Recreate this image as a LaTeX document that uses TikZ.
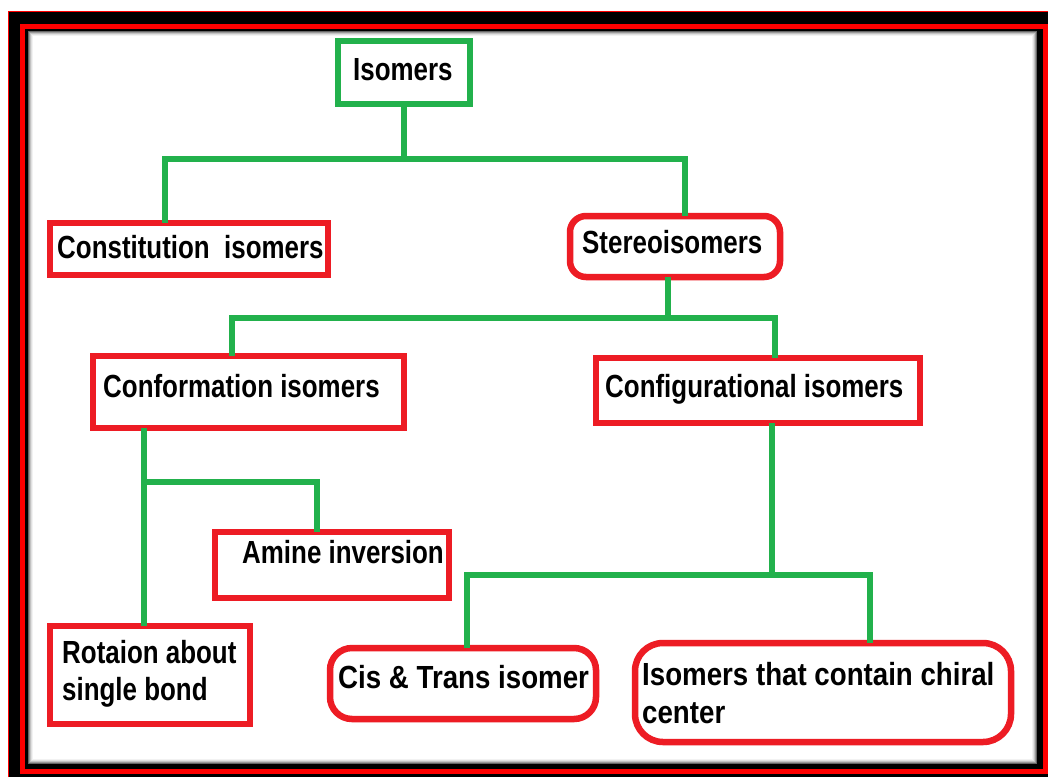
\documentclass[tikz,border=0pt]{standalone}
\usepackage{fontspec}
\setmainfont{Liberation Sans}[FakeStretch=0.81]
\newfontfamily\wfont{Liberation Sans}[FakeStretch=0.865]
\definecolor{pgreen}{RGB}{34,177,76}
\definecolor{pred}{RGB}{237,28,36}
\definecolor{fred}{RGB}{255,0,0}
\tikzset{
  conn/.style={draw=pgreen, line width=6pt, line cap=butt, line join=miter},
  sqbox/.style={draw=pred, line width=6.5pt, fill=white, inner sep=0pt, outer sep=0pt},
  rbox/.style={sqbox, rounded corners=#1},
  gbox/.style={draw=pgreen, line width=6.5pt, fill=white, inner sep=0pt, outer sep=0pt},
  txt/.style={font=\fontsize{32}{37}\selectfont\bfseries, inner sep=0pt, anchor=base west, text=black},
  wtxt/.style={font=\wfont\fontsize{32}{37}\selectfont\bfseries, inner sep=0pt, anchor=base west, text=black}
}
\begin{document}
\begin{tikzpicture}[x=1pt,y=-1pt]
\useasboundingbox (0,0) rectangle (1048,777);
\fill[white] (0,0) rectangle (1048,777);
% frame
\fill[black] (8,11) rectangle (1048,777);
\draw[fred, line width=1.2pt] (8.6,777) -- (8.6,11.6) -- (1048,11.6);
\draw[fred, line width=5pt] (22.5,26.5) rectangle (1045,771.5);
\fill[white] (28,31) rectangle (1037,764);
\foreach \i/\c in {0.5/60,1.5/40,2.5/24,3.5/12,4.5/5}
  \draw[black!\c, line width=1pt] (28+\i,31+\i) rectangle (1037-\i,764-\i);

% boxes
\node[gbox, minimum width=132pt, minimum height=63pt] (iso) at (404,72.5) {};
\node[sqbox, minimum width=278pt, minimum height=52pt] (const) at (189,249) {};
\node[rbox=16pt, minimum width=210pt, minimum height=61pt] (stereo) at (675,246.5) {};
\node[sqbox, minimum width=311pt, minimum height=72pt] (conf) at (248.5,392) {};
\node[sqbox, minimum width=324pt, minimum height=65pt] (config) at (758,390.5) {};
\node[sqbox, minimum width=234pt, minimum height=66pt] (amine) at (332,565) {};
\node[sqbox, minimum width=200pt, minimum height=98pt] (rot) at (150,675) {};
\node[rbox=22pt, minimum width=266pt, minimum height=71pt] (cis) at (463,683.5) {};
\node[rbox=28pt, minimum width=376pt, minimum height=99pt] (chiral) at (823,692.5) {};

% texts
\node[txt] (tiso) at (353,80) {Isomers};
\node[txt] (tconst) at (57,258) {Constitution\ \ isomers};
\node[txt] (tstereo) at (582,253) {Stereoisomers};
\node[txt] (tconf) at (103,397) {Conformation isomers};
\node[txt] (tconfig) at (605,397) {Configurational isomers};
\node[txt] (tamine) at (242,563) {Amine inversion};
\node[txt] (trot1) at (62,663) {Rotaion about};
\node[txt] (trot2) at (62,700) {single bond};
\node[wtxt] (tcis) at (338,688) {Cis \& Trans isomer};
\node[wtxt] (tchi1) at (642,685) {Isomers that contain chiral};
\node[wtxt] (tchi2) at (642,723) {center};

% connectors
\coordinate (h1l) at (165,159);
\coordinate (h1r) at (685,159);
\draw[conn] (iso) -- (iso |- h1l);
\draw[conn] (h1l |- const.north) -- (h1l) -- (h1r) -- (h1r |- stereo.north);

\coordinate (s2) at (668,318);
\coordinate (h2l) at (232,318);
\coordinate (h2r) at (775,318);
\draw[conn] (s2 |- stereo.south) -- (s2);
\draw[conn] (h2l |- conf.north) -- (h2l) -- (h2r) -- (h2r |- config.north);

\coordinate (c1) at (144,482);
\coordinate (c2) at (317,482);
\draw[conn] (c1 |- conf.south) -- (c1 |- rot.north);
\draw[conn] (c1) -- (c2) -- (c2 |- amine.north);

\coordinate (d0) at (772,575);
\coordinate (d1) at (467,575);
\coordinate (d2) at (870,575);
\draw[conn] (d0 |- config.south) -- (d0);
\draw[conn] (d1 |- cis.north) -- (d1) -- (d2) -- (d2 |- chiral.north);
\end{tikzpicture}
\end{document}
